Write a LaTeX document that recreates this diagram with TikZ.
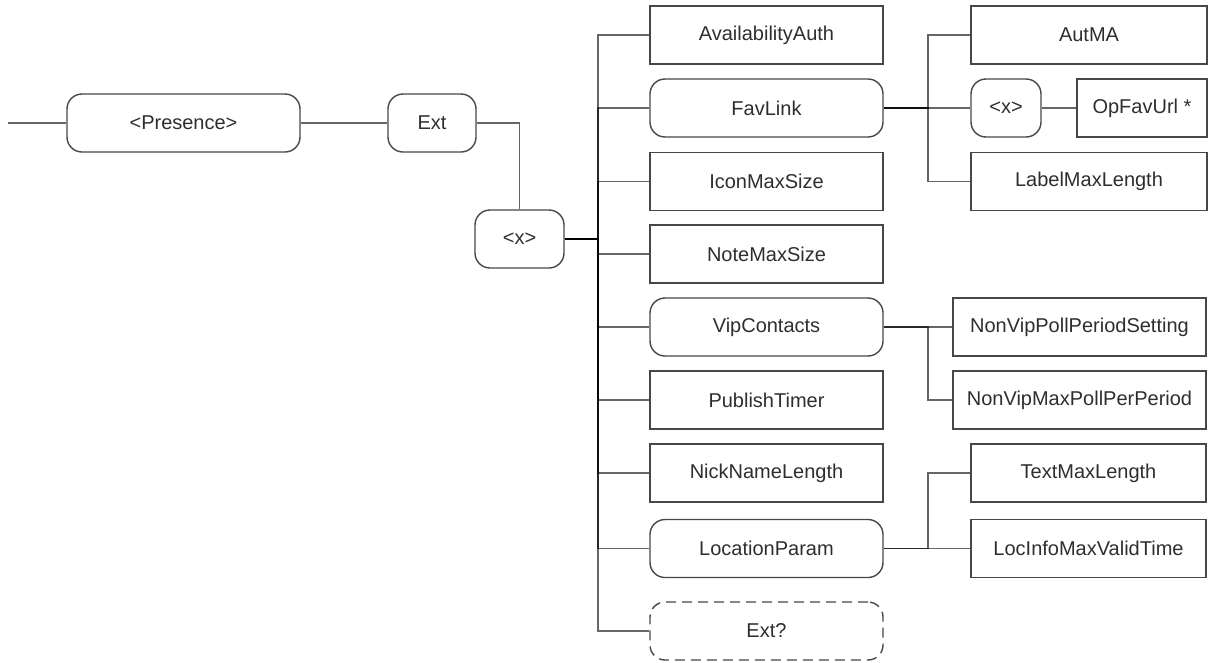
\documentclass[tikz,border=0pt]{standalone}
\usepackage{fontspec}
\setmainfont{Liberation Sans}
\begin{document}
\begin{tikzpicture}[x=1pt,y=-1pt,
  base/.style={draw=black!72, line width=1.4pt, minimum height=58pt, inner sep=0pt,
    font=\fontsize{20}{24}\selectfont, text=black!82},
  sqbox/.style={base},
  rbox/.style={base, rounded corners=15pt},
  dbox/.style={base, rounded corners=15pt, dash pattern=on 10pt off 6pt},
  conn/.style={draw=black, draw opacity=0.6, line width=1.6pt}]
\useasboundingbox (0,0) rectangle (1208,662);
% left part
\coordinate (start) at (8,123);
\node[rbox, minimum width=233pt] (pres) at (183.5,123) {<Presence>};
\node[rbox, minimum width=88pt] (ext) at (432,123) {Ext};
\node[rbox, minimum width=89pt] (x1) at (519.5,239) {<x>};
% main column
\node[sqbox, minimum width=233pt] (avail) at (766.5,35) {AvailabilityAuth};
\node[rbox, minimum width=233pt] (fav) at (766.5,108) {FavLink};
\node[sqbox, minimum width=233pt] (icon) at (766.5,181.5) {IconMaxSize};
\node[sqbox, minimum width=233pt] (note) at (766.5,254) {NoteMaxSize};
\node[rbox, minimum width=233pt] (vip) at (766.5,327) {VipContacts};
\node[sqbox, minimum width=233pt] (pub) at (766.5,400) {PublishTimer};
\node[sqbox, minimum width=233pt] (nick) at (766.5,473) {NickNameLength};
\node[rbox, minimum width=233pt] (loc) at (766.5,548.5) {LocationParam};
\node[dbox, minimum width=233pt] (extq) at (766.5,631) {Ext?};
% right column
\node[sqbox, minimum width=236pt] (autma) at (1089,35) {AutMA};
\node[rbox, minimum width=70pt] (x2) at (1006,108) {<x>};
\node[sqbox, minimum width=130pt] (opfav) at (1142,108) {OpFavUrl *};
\node[sqbox, minimum width=236pt] (label) at (1089,181.5) {LabelMaxLength};
\node[sqbox, minimum width=253pt] (nvpoll) at (1079.5,327) {NonVipPollPeriodSetting};
\node[sqbox, minimum width=253pt] (nvmax) at (1079.5,400) {NonVipMaxPollPerPeriod};
\node[sqbox, minimum width=235pt] (textmax) at (1088.5,473) {TextMaxLength};
\node[sqbox, minimum width=235pt] (locinfo) at (1088.5,548.5) {LocInfoMaxValidTime};
% connectors
\draw[conn] (start) -- (pres.west);
\draw[conn] (pres.east) -- (ext.west);
\draw[conn] (ext.east) -| (x1.north);
\foreach \c in {avail,fav,icon,note,vip,pub,nick,loc,extq}
  \draw[conn] (x1.east) -- ++(33,0) |- (\c.west);
\draw[conn] (fav.east) -- ++(44,0) |- (autma.west);
\draw[conn] (fav.east) -- (x2.west);
\draw[conn] (fav.east) -- ++(44,0) |- (label.west);
\draw[conn] (x2.east) -- (opfav.west);
\draw[conn] (vip.east) -- (nvpoll.west);
\draw[conn] (vip.east) -- ++(44,0) |- (nvmax.west);
\draw[conn] (loc.east) -- ++(44,0) |- (textmax.west);
\draw[conn] (loc.east) -- (locinfo.west);
\end{tikzpicture}
\end{document}
